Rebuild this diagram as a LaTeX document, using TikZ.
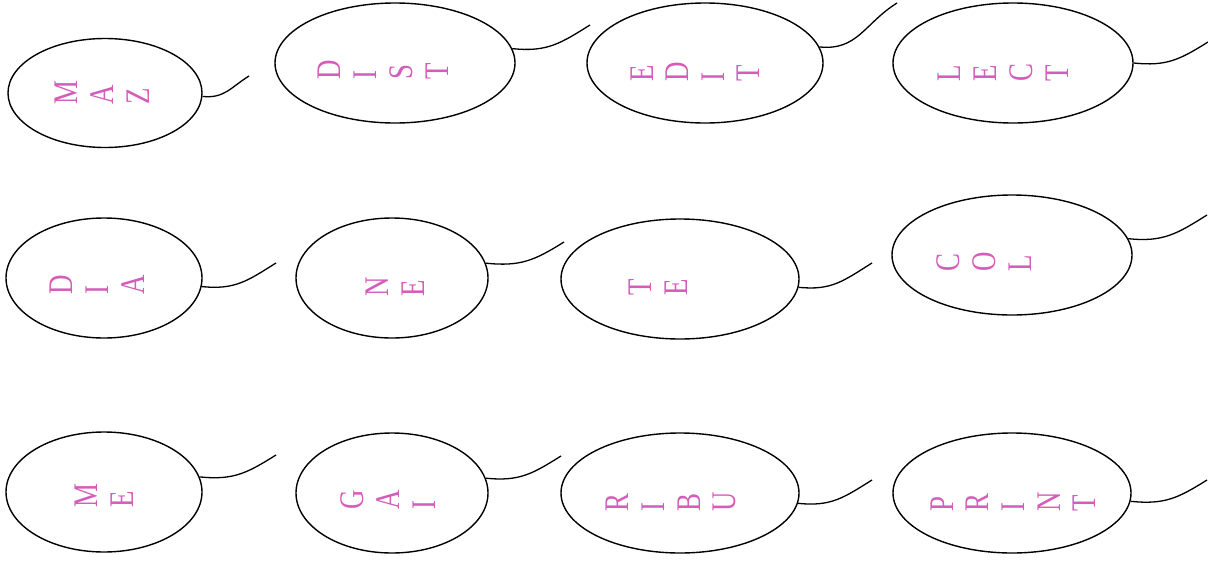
\documentclass[tikz,border=0pt]{standalone}
\usepackage{fontspec}
\setmainfont{Liberation Serif}
\usepackage{graphicx}
\usepackage{tikz}
\usetikzlibrary{shapes.geometric}
\definecolor{letterpink}{RGB}{212,92,186}
\newcommand{\vl}[1]{\hspace{6.5pt}\rotatebox{90}{\scalebox{0.78}[1]{#1}}\hspace{6.5pt}}
\tikzset{
    balloon/.style={draw, ellipse, line width=1.4pt, minimum height=120pt, inner sep=0pt},
    word/.style={anchor=south, inner sep=0pt, text=letterpink, font=\fontsize{34.5}{36}\selectfont},
    string/.style={line width=1.3pt, out=-6, in=212, looseness=1.1}
}

\begin{document}
\begin{tikzpicture}[x=1pt, y=1pt]
\useasboundingbox (0,0) rectangle (1208,-560);
% top row
\node[balloon, minimum width=194pt, minimum height=109pt] (maz) at (105,-93) {};
\node[balloon, minimum width=240pt] (dist) at (395,-63) {};
\node[balloon, minimum width=236pt] (edit) at (705,-63) {};
\node[balloon, minimum width=240pt] (lect) at (1013,-63) {};
% middle row
\node[balloon, minimum width=196pt] (dia) at (104,-278) {};
\node[balloon, minimum width=192pt] (ne) at (392,-278) {};
\node[balloon, minimum width=238pt] (te) at (680,-279) {};
\node[balloon, minimum width=240pt] (col) at (1012,-255) {};
% bottom row
\node[balloon, minimum width=196pt] (me) at (104,-492) {};
\node[balloon, minimum width=192pt] (gai) at (392,-493) {};
\node[balloon, minimum width=238pt] (ribu) at (680,-493) {};
\node[balloon, minimum width=238pt] (prnt) at (1012,-493) {};

% letters
\node[word] (mazw) at (99,-105) {\vl{M}\vl{A}\vl{Z}};
\node[word] (distw) at (380,-80) {\vl{D}\vl{I}\vl{S}\vl{T}};
\node[word] (editw) at (692,-82) {\vl{E}\vl{D}\vl{I}\vl{T}};
\node[word] (lectw) at (1000,-82) {\vl{L}\vl{E}\vl{C}\vl{T}};
\node[word] (diaw) at (94,-295) {\vl{D}\vl{I}\vl{A}};
\node[word] (new) at (392,-297) {\vl{N}\vl{E}};
\node[word] (tew) at (655,-296) {\vl{T}\vl{E}};
\node[word] (colw) at (981,-272) {\vl{C}\vl{O}\vl{L}};
\node[word] (mew) at (101,-508) {\vl{M}\vl{E}};
\node[word] (gaiw) at (385,-510) {\vl{G}\vl{A}\vl{I}};
\node[word] (ribuw) at (668,-512) {\vl{R}\vl{I}\vl{B}\vl{U}};
\node[word] (prntw) at (1010,-512) {\vl{P}\vl{R}\vl{I}\vl{N}\vl{T}};

% string ends
\coordinate (mazs) at (249,-76);
\coordinate (dists) at (590,-25);
\coordinate (edits) at (897,-3);
\coordinate (lects) at (1208,-42);
\coordinate (dias) at (276,-263);
\coordinate (nes) at (564,-242);
\coordinate (tes) at (872,-263);
\coordinate (cols) at (1207,-215);
\coordinate (mes) at (276,-455);
\coordinate (gais) at (561,-456);
\coordinate (ribus) at (872,-480);
\coordinate (prnts) at (1207,-480);

\draw[string] (maz.-2) to (mazs);
\draw[string] (dist.7) to (dists);
\draw[string] (edit.8) to (edits);
\draw[string] (lect.0) to (lects);
\draw[string] (dia.-5) to (dias);
\draw[string] (ne.9) to (nes);
\draw[string] (te.-4) to (tes);
\draw[string] (col.8) to (cols);
\draw[string] (me.9) to (mes);
\draw[string] (gai.9) to (gais);
\draw[string] (ribu.-5) to (ribus);
\draw[string] (prnt.-4) to (prnts);
\end{tikzpicture}
\end{document}
